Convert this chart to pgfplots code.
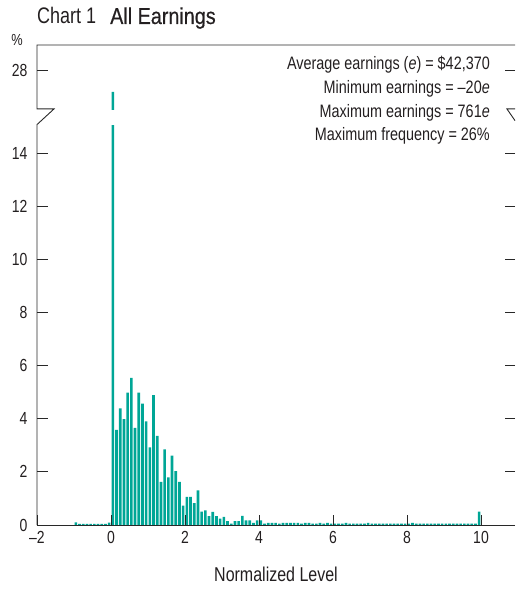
\documentclass[border=0pt]{standalone}
\usepackage{fontspec}
\setmainfont{Liberation Sans}[FakeStretch=0.8]
\newfontfamily\titlemed{Liberation Sans}[FakeStretch=0.86,FakeBold=0.4]
\usepackage{pgfplots}
\pgfplotsset{compat=1.18}
\definecolor{barteal}{RGB}{0,166,150}
\definecolor{txt}{RGB}{35,31,32}
\definecolor{axl}{RGB}{40,40,40}
\begin{document}
\begin{tikzpicture}
\useasboundingbox (-37pt,-66pt) rectangle (478pt,525pt);
\begin{axis}[
  at={(0pt,0pt)}, anchor=south west,
  scale only axis, width=478pt, height=480pt,
  xmin=-2, xmax=10.919, ymin=0, ymax=18.065,
  axis line style={draw=none},
  separate axis lines,
  axis on top,
  clip=false,
  tick align=inside,
  major tick length=10.5pt,
  tick style={axl, line width=0.9pt},
  xtick={-2,0,2,4,6,8,10},
  xticklabels={–2,0,2,4,6,8,10},
  xtick pos=left,
  ytick={0,2,4,6,8,10,12,14,17.12},
  yticklabels={0,2,4,6,8,10,12,14,28},
  ytick pos=both,
  /pgf/number format/assume math mode=true,
  every tick label/.append style={font=\fontsize{17.5}{20}\selectfont, text=txt},
  yticklabel style={xshift=-6pt},
  xticklabel style={yshift=-3pt},
  xlabel={Normalized Level},
  xlabel style={at={(rel axis cs:0.5,0)}, anchor=base, yshift=-56pt, font=\fontsize{20}{24}\selectfont, text=txt},
]
\addplot[ybar, bar width=0.072, fill=barteal, draw=none] coordinates {
(-0.95,0.10) (-0.85,0.04) (-0.75,0.04) (-0.65,0.04) (-0.55,0.04) (-0.45,0.04) (-0.35,0.04) (-0.25,0.04) (-0.15,0.04) (-0.05,0.09)
(0.05,16.30) (0.15,3.58) (0.25,4.39) (0.35,3.98) (0.45,4.98) (0.55,5.54) (0.65,3.66) (0.75,4.98) (0.85,4.57) (0.95,3.90)
(1.05,2.92) (1.15,4.89) (1.25,3.35) (1.35,1.62) (1.45,2.85) (1.55,1.79) (1.65,2.61) (1.75,2.03) (1.85,1.62) (1.95,0.73)
(2.05,1.06) (2.15,1.06) (2.25,0.82) (2.35,1.30) (2.45,0.50) (2.55,0.55) (2.65,0.33) (2.75,0.49) (2.85,0.33) (2.95,0.24)
(3.05,0.31) (3.15,0.15) (3.25,0.05) (3.35,0.15) (3.45,0.15) (3.55,0.34) (3.65,0.17) (3.75,0.17) (3.85,0.08) (3.95,0.17)
(4.05,0.17) (4.15,0.05) (4.25,0.08) (4.35,0.08) (4.45,0.08) (4.55,0.05) (4.65,0.08) (4.75,0.08) (4.85,0.08) (4.95,0.08)
(5.05,0.08) (5.15,0.05) (5.25,0.08) (5.35,0.08) (5.45,0.05) (5.55,0.05) (5.65,0.08) (5.75,0.05) (5.85,0.08) (5.95,0.05)
(6.05,0.05) (6.15,0.05) (6.25,0.05) (6.35,0.08) (6.45,0.05) (6.55,0.05) (6.65,0.05) (6.75,0.05) (6.85,0.05) (6.95,0.08)
(7.05,0.05) (7.15,0.05) (7.25,0.05) (7.35,0.05) (7.45,0.05) (7.55,0.05) (7.65,0.05) (7.75,0.05) (7.85,0.05) (7.95,0.05)
(8.05,0.05) (8.15,0.08) (8.25,0.05) (8.35,0.05) (8.45,0.05) (8.55,0.05) (8.65,0.05) (8.75,0.05) (8.85,0.05) (8.95,0.05)
(9.05,0.05) (9.15,0.05) (9.25,0.05) (9.35,0.05) (9.45,0.05) (9.55,0.05) (9.65,0.05) (9.75,0.05) (9.85,0.05) (9.95,0.50)
};
% break gap in the tallest bar
\fill[white] (axis cs:-0.01,15.05) rectangle (axis cs:0.11,15.62);
% axis lines with break
\draw[axl, line width=0.9pt] (axis cs:-2,0) -- (axis cs:10.919,0);
\draw[axl, line width=0.9pt] (axis cs:-2,0) -- (axis cs:-2,15.07) -- (axis cs:-1.54,15.66) -- (axis cs:-2,15.66) -- (axis cs:-2,18.065) -- (axis cs:10.919,18.065);
\draw[axl, line width=0.9pt] (axis cs:10.919,15.66) -- (axis cs:10.70,15.66) -- (axis cs:10.919,15.22);
% title and labels
\node[anchor=base west, inner sep=0pt, text=txt, font=\fontsize{22.5}{26}\selectfont] at ([yshift=21pt]rel axis cs:0,1) {Chart 1};
\node[anchor=base west, inner sep=0pt, text=txt, font=\titlemed\fontsize{23}{26}\selectfont] at ([xshift=73pt,yshift=21pt]rel axis cs:0,1) {All Earnings};
\node[anchor=base, inner sep=0pt, text=txt, font=\fontsize{16}{18}\selectfont] at ([xshift=-20pt,yshift=-1pt]rel axis cs:0,1) {\%};
\node[anchor=base east, inner sep=0pt, text=txt, font=\fontsize{18}{22}\selectfont] at ([xshift=-25pt,yshift=-25pt]rel axis cs:1,1) {Average earnings (\textit{e}) = \$42,370};
\node[anchor=base east, inner sep=0pt, text=txt, font=\fontsize{18}{22}\selectfont] at ([xshift=-25pt,yshift=-49pt]rel axis cs:1,1) {Minimum earnings = –20\textit{e}};
\node[anchor=base east, inner sep=0pt, text=txt, font=\fontsize{18}{22}\selectfont] at ([xshift=-25pt,yshift=-72.5pt]rel axis cs:1,1) {Maximum earnings = 761\textit{e}};
\node[anchor=base east, inner sep=0pt, text=txt, font=\fontsize{18}{22}\selectfont] at ([xshift=-25pt,yshift=-96pt]rel axis cs:1,1) {Maximum frequency = 26\%};
\end{axis}
\end{tikzpicture}
\end{document}
